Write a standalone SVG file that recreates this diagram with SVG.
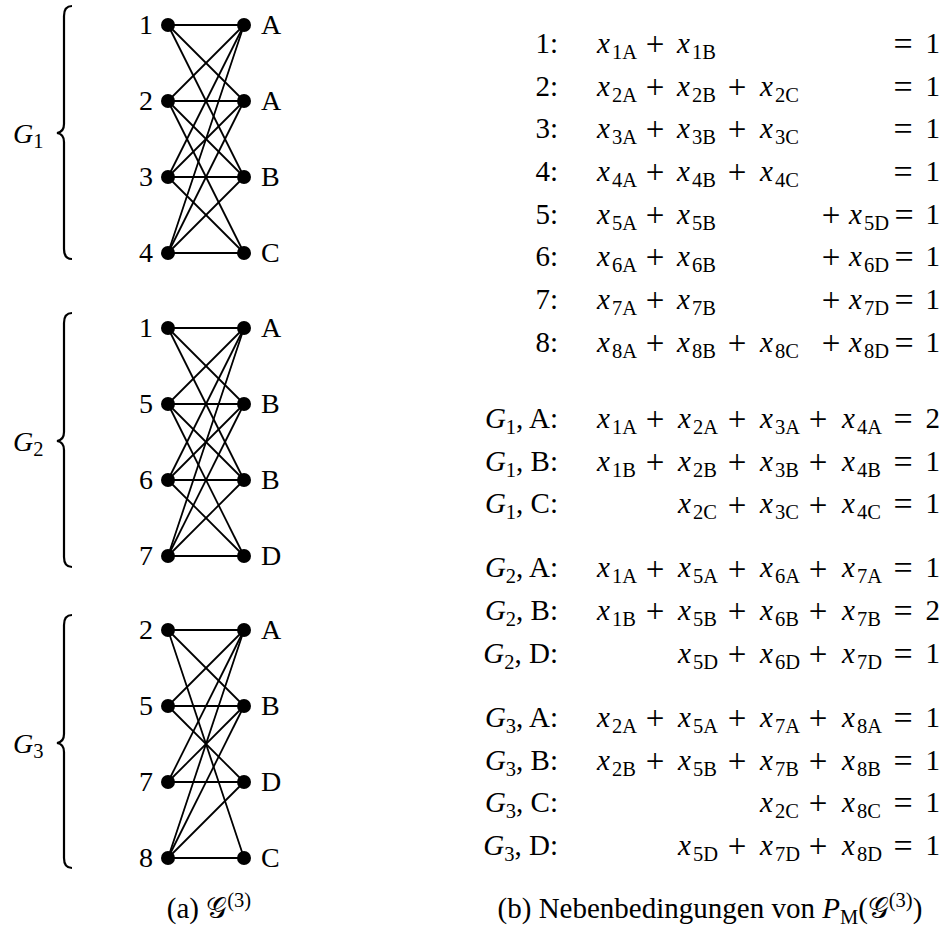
<svg xmlns="http://www.w3.org/2000/svg" width="946" height="928" viewBox="0 0 946 928">
<style>
.t{font-family:"Liberation Serif","DejaVu Serif",serif;font-size:29px;fill:#000}
.lb{font-family:"Liberation Serif","DejaVu Serif",serif;font-size:28px;fill:#000}
.i{font-style:italic}
.s{font-size:20.5px;font-style:normal}
.p{font-size:33px;text-anchor:middle;transform:translateY(2.2px)}
.q{font-size:34px;text-anchor:middle;transform:translateY(2px)}
.r{text-anchor:end}
.e{stroke:#000;stroke-width:1.8}
.n{fill:#000}
.br{fill:none;stroke:#000;stroke-width:2.2}
.sg{font-family:"DejaVu Serif","DejaVu Sans","Noto Sans",serif;font-style:normal}
</style>
<rect width="946" height="928" fill="#fff"/>

<g id="brace1">
<path class="br" d="M72,6 Q64,6 64,16 L64,124 Q64,132 57,133 Q64,134 64,142 L64,249 Q64,259 72,259"/>
<text class="lb" x="13" y="143"><tspan class="i">G</tspan><tspan class="s" dy="5">1</tspan></text>
</g>
<g id="brace2">
<path class="br" d="M72,313 Q64,313 64,323 L64,432 Q64,440 57,441 Q64,442 64,450 L64,557 Q64,567 72,567"/>
<text class="lb" x="13" y="451"><tspan class="i">G</tspan><tspan class="s" dy="5">2</tspan></text>
</g>
<g id="brace3">
<path class="br" d="M72,615 Q64,615 64,625 L64,734 Q64,742 57,743 Q64,744 64,752 L64,858 Q64,868 72,868"/>
<text class="lb" x="13" y="753"><tspan class="i">G</tspan><tspan class="s" dy="5">3</tspan></text>
</g>

<g id="connectors">
<line class="e" x1="168" y1="25" x2="244" y2="25"/>
<line class="e" x1="168" y1="25" x2="244" y2="101"/>
<line class="e" x1="168" y1="25" x2="244" y2="177"/>
<line class="e" x1="168" y1="101" x2="244" y2="25"/>
<line class="e" x1="168" y1="101" x2="244" y2="101"/>
<line class="e" x1="168" y1="101" x2="244" y2="177"/>
<line class="e" x1="168" y1="101" x2="244" y2="253"/>
<line class="e" x1="168" y1="177" x2="244" y2="25"/>
<line class="e" x1="168" y1="177" x2="244" y2="101"/>
<line class="e" x1="168" y1="177" x2="244" y2="177"/>
<line class="e" x1="168" y1="177" x2="244" y2="253"/>
<line class="e" x1="168" y1="253" x2="244" y2="25"/>
<line class="e" x1="168" y1="253" x2="244" y2="101"/>
<line class="e" x1="168" y1="253" x2="244" y2="177"/>
<line class="e" x1="168" y1="253" x2="244" y2="253"/>
<line class="e" x1="168" y1="328" x2="244" y2="328"/>
<line class="e" x1="168" y1="328" x2="244" y2="404"/>
<line class="e" x1="168" y1="328" x2="244" y2="480"/>
<line class="e" x1="168" y1="404" x2="244" y2="328"/>
<line class="e" x1="168" y1="404" x2="244" y2="404"/>
<line class="e" x1="168" y1="404" x2="244" y2="480"/>
<line class="e" x1="168" y1="404" x2="244" y2="556"/>
<line class="e" x1="168" y1="480" x2="244" y2="328"/>
<line class="e" x1="168" y1="480" x2="244" y2="404"/>
<line class="e" x1="168" y1="480" x2="244" y2="480"/>
<line class="e" x1="168" y1="480" x2="244" y2="556"/>
<line class="e" x1="168" y1="556" x2="244" y2="328"/>
<line class="e" x1="168" y1="556" x2="244" y2="404"/>
<line class="e" x1="168" y1="556" x2="244" y2="480"/>
<line class="e" x1="168" y1="556" x2="244" y2="556"/>
<line class="e" x1="168" y1="630" x2="244" y2="630"/>
<line class="e" x1="168" y1="630" x2="244" y2="706"/>
<line class="e" x1="168" y1="630" x2="244" y2="858"/>
<line class="e" x1="168" y1="706" x2="244" y2="630"/>
<line class="e" x1="168" y1="706" x2="244" y2="706"/>
<line class="e" x1="168" y1="706" x2="244" y2="782"/>
<line class="e" x1="168" y1="782" x2="244" y2="630"/>
<line class="e" x1="168" y1="782" x2="244" y2="706"/>
<line class="e" x1="168" y1="782" x2="244" y2="782"/>
<line class="e" x1="168" y1="858" x2="244" y2="630"/>
<line class="e" x1="168" y1="858" x2="244" y2="706"/>
<line class="e" x1="168" y1="858" x2="244" y2="782"/>
<line class="e" x1="168" y1="858" x2="244" y2="858"/>
</g>

<g id="g1-l1"><circle class="n" cx="168" cy="25" r="7"/><text class="lb r" x="153" y="34">1</text></g>
<g id="g1-l2"><circle class="n" cx="168" cy="101" r="7"/><text class="lb r" x="153" y="110">2</text></g>
<g id="g1-l3"><circle class="n" cx="168" cy="177" r="7"/><text class="lb r" x="153" y="186">3</text></g>
<g id="g1-l4"><circle class="n" cx="168" cy="253" r="7"/><text class="lb r" x="153" y="262">4</text></g>
<g id="g1-rA1"><circle class="n" cx="244" cy="25" r="7"/><text class="lb" x="261" y="34">A</text></g>
<g id="g1-rA2"><circle class="n" cx="244" cy="101" r="7"/><text class="lb" x="261" y="110">A</text></g>
<g id="g1-rB"><circle class="n" cx="244" cy="177" r="7"/><text class="lb" x="261" y="186">B</text></g>
<g id="g1-rC"><circle class="n" cx="244" cy="253" r="7"/><text class="lb" x="261" y="262">C</text></g>
<g id="g2-l1"><circle class="n" cx="168" cy="328" r="7"/><text class="lb r" x="153" y="337">1</text></g>
<g id="g2-l5"><circle class="n" cx="168" cy="404" r="7"/><text class="lb r" x="153" y="413">5</text></g>
<g id="g2-l6"><circle class="n" cx="168" cy="480" r="7"/><text class="lb r" x="153" y="489">6</text></g>
<g id="g2-l7"><circle class="n" cx="168" cy="556" r="7"/><text class="lb r" x="153" y="565">7</text></g>
<g id="g2-rA"><circle class="n" cx="244" cy="328" r="7"/><text class="lb" x="261" y="337">A</text></g>
<g id="g2-rB1"><circle class="n" cx="244" cy="404" r="7"/><text class="lb" x="261" y="413">B</text></g>
<g id="g2-rB2"><circle class="n" cx="244" cy="480" r="7"/><text class="lb" x="261" y="489">B</text></g>
<g id="g2-rD"><circle class="n" cx="244" cy="556" r="7"/><text class="lb" x="261" y="565">D</text></g>
<g id="g3-l2"><circle class="n" cx="168" cy="630" r="7"/><text class="lb r" x="153" y="639">2</text></g>
<g id="g3-l5"><circle class="n" cx="168" cy="706" r="7"/><text class="lb r" x="153" y="715">5</text></g>
<g id="g3-l7"><circle class="n" cx="168" cy="782" r="7"/><text class="lb r" x="153" y="791">7</text></g>
<g id="g3-l8"><circle class="n" cx="168" cy="858" r="7"/><text class="lb r" x="153" y="867">8</text></g>
<g id="g3-rA"><circle class="n" cx="244" cy="630" r="7"/><text class="lb" x="261" y="639">A</text></g>
<g id="g3-rB"><circle class="n" cx="244" cy="706" r="7"/><text class="lb" x="261" y="715">B</text></g>
<g id="g3-rD"><circle class="n" cx="244" cy="782" r="7"/><text class="lb" x="261" y="791">D</text></g>
<g id="g3-rC"><circle class="n" cx="244" cy="858" r="7"/><text class="lb" x="261" y="867">C</text></g>

<text id="cap-a" class="t" x="209" y="918" text-anchor="middle">(a) <tspan class="sg">𝒢</tspan><tspan class="s" dy="-11">(3)</tspan></text>

<g id="eqs" class="t">
<text class="r" x="558" y="53">1:</text>
<text x="597" y="53"><tspan class="i">x</tspan><tspan class="s" dx="2" dy="6">1A</tspan></text>
<text class="p" x="655" y="53">+</text>
<text x="677" y="53"><tspan class="i">x</tspan><tspan class="s" dx="2" dy="6">1B</tspan></text>
<text class="q" x="903" y="53">=</text><text class="r" x="940" y="53">1</text>

<text class="r" x="558" y="95.7">2:</text>
<text x="597" y="95.7"><tspan class="i">x</tspan><tspan class="s" dx="2" dy="6">2A</tspan></text>
<text class="p" x="655" y="95.7">+</text>
<text x="677" y="95.7"><tspan class="i">x</tspan><tspan class="s" dx="2" dy="6">2B</tspan></text>
<text class="p" x="737" y="95.7">+</text>
<text x="760" y="95.7"><tspan class="i">x</tspan><tspan class="s" dx="2" dy="6">2C</tspan></text>
<text class="q" x="903" y="95.7">=</text><text class="r" x="940" y="95.7">1</text>

<text class="r" x="558" y="138.3">3:</text>
<text x="597" y="138.3"><tspan class="i">x</tspan><tspan class="s" dx="2" dy="6">3A</tspan></text>
<text class="p" x="655" y="138.3">+</text>
<text x="677" y="138.3"><tspan class="i">x</tspan><tspan class="s" dx="2" dy="6">3B</tspan></text>
<text class="p" x="737" y="138.3">+</text>
<text x="760" y="138.3"><tspan class="i">x</tspan><tspan class="s" dx="2" dy="6">3C</tspan></text>
<text class="q" x="903" y="138.3">=</text><text class="r" x="940" y="138.3">1</text>

<text class="r" x="558" y="181">4:</text>
<text x="597" y="181"><tspan class="i">x</tspan><tspan class="s" dx="2" dy="6">4A</tspan></text>
<text class="p" x="655" y="181">+</text>
<text x="677" y="181"><tspan class="i">x</tspan><tspan class="s" dx="2" dy="6">4B</tspan></text>
<text class="p" x="737" y="181">+</text>
<text x="760" y="181"><tspan class="i">x</tspan><tspan class="s" dx="2" dy="6">4C</tspan></text>
<text class="q" x="903" y="181">=</text><text class="r" x="940" y="181">1</text>

<text class="r" x="558" y="223.7">5:</text>
<text x="597" y="223.7"><tspan class="i">x</tspan><tspan class="s" dx="2" dy="6">5A</tspan></text>
<text class="p" x="655" y="223.7">+</text>
<text x="677" y="223.7"><tspan class="i">x</tspan><tspan class="s" dx="2" dy="6">5B</tspan></text>
<text class="p" x="831" y="223.7">+</text>
<text x="849" y="223.7"><tspan class="i">x</tspan><tspan class="s" dx="2" dy="6">5D</tspan></text>
<text class="q" x="904" y="223.7">=</text><text class="r" x="940" y="223.7">1</text>

<text class="r" x="558" y="266.3">6:</text>
<text x="597" y="266.3"><tspan class="i">x</tspan><tspan class="s" dx="2" dy="6">6A</tspan></text>
<text class="p" x="655" y="266.3">+</text>
<text x="677" y="266.3"><tspan class="i">x</tspan><tspan class="s" dx="2" dy="6">6B</tspan></text>
<text class="p" x="831" y="266.3">+</text>
<text x="849" y="266.3"><tspan class="i">x</tspan><tspan class="s" dx="2" dy="6">6D</tspan></text>
<text class="q" x="904" y="266.3">=</text><text class="r" x="940" y="266.3">1</text>

<text class="r" x="558" y="309">7:</text>
<text x="597" y="309"><tspan class="i">x</tspan><tspan class="s" dx="2" dy="6">7A</tspan></text>
<text class="p" x="655" y="309">+</text>
<text x="677" y="309"><tspan class="i">x</tspan><tspan class="s" dx="2" dy="6">7B</tspan></text>
<text class="p" x="831" y="309">+</text>
<text x="849" y="309"><tspan class="i">x</tspan><tspan class="s" dx="2" dy="6">7D</tspan></text>
<text class="q" x="904" y="309">=</text><text class="r" x="940" y="309">1</text>

<text class="r" x="558" y="351.7">8:</text>
<text x="597" y="351.7"><tspan class="i">x</tspan><tspan class="s" dx="2" dy="6">8A</tspan></text>
<text class="p" x="655" y="351.7">+</text>
<text x="677" y="351.7"><tspan class="i">x</tspan><tspan class="s" dx="2" dy="6">8B</tspan></text>
<text class="p" x="737" y="351.7">+</text>
<text x="760" y="351.7"><tspan class="i">x</tspan><tspan class="s" dx="2" dy="6">8C</tspan></text>
<text class="p" x="831" y="351.7">+</text>
<text x="849" y="351.7"><tspan class="i">x</tspan><tspan class="s" dx="2" dy="6">8D</tspan></text>
<text class="q" x="904" y="351.7">=</text><text class="r" x="940" y="351.7">1</text>

<text class="r" x="558" y="428"><tspan class="i">G</tspan><tspan class="s" dy="6">1</tspan><tspan dy="-6">, A:</tspan></text>
<text x="597" y="428"><tspan class="i">x</tspan><tspan class="s" dx="2" dy="6">1A</tspan></text>
<text class="p" x="655" y="428">+</text>
<text x="678" y="428"><tspan class="i">x</tspan><tspan class="s" dx="2" dy="6">2A</tspan></text>
<text class="p" x="737" y="428">+</text>
<text x="760" y="428"><tspan class="i">x</tspan><tspan class="s" dx="2" dy="6">3A</tspan></text>
<text class="p" x="818" y="428">+</text>
<text x="842" y="428"><tspan class="i">x</tspan><tspan class="s" dx="2" dy="6">4A</tspan></text>
<text class="q" x="903" y="428">=</text><text class="r" x="940" y="428">2</text>

<text class="r" x="558" y="470.7"><tspan class="i">G</tspan><tspan class="s" dy="6">1</tspan><tspan dy="-6">, B:</tspan></text>
<text x="597" y="470.7"><tspan class="i">x</tspan><tspan class="s" dx="2" dy="6">1B</tspan></text>
<text class="p" x="655" y="470.7">+</text>
<text x="678" y="470.7"><tspan class="i">x</tspan><tspan class="s" dx="2" dy="6">2B</tspan></text>
<text class="p" x="737" y="470.7">+</text>
<text x="760" y="470.7"><tspan class="i">x</tspan><tspan class="s" dx="2" dy="6">3B</tspan></text>
<text class="p" x="818" y="470.7">+</text>
<text x="842" y="470.7"><tspan class="i">x</tspan><tspan class="s" dx="2" dy="6">4B</tspan></text>
<text class="q" x="903" y="470.7">=</text><text class="r" x="940" y="470.7">1</text>

<text class="r" x="558" y="513.4"><tspan class="i">G</tspan><tspan class="s" dy="6">1</tspan><tspan dy="-6">, C:</tspan></text>
<text x="678" y="513.4"><tspan class="i">x</tspan><tspan class="s" dx="2" dy="6">2C</tspan></text>
<text class="p" x="737" y="513.4">+</text>
<text x="760" y="513.4"><tspan class="i">x</tspan><tspan class="s" dx="2" dy="6">3C</tspan></text>
<text class="p" x="818" y="513.4">+</text>
<text x="842" y="513.4"><tspan class="i">x</tspan><tspan class="s" dx="2" dy="6">4C</tspan></text>
<text class="q" x="903" y="513.4">=</text><text class="r" x="940" y="513.4">1</text>

<text class="r" x="558" y="577.4"><tspan class="i">G</tspan><tspan class="s" dy="6">2</tspan><tspan dy="-6">, A:</tspan></text>
<text x="597" y="577.4"><tspan class="i">x</tspan><tspan class="s" dx="2" dy="6">1A</tspan></text>
<text class="p" x="655" y="577.4">+</text>
<text x="678" y="577.4"><tspan class="i">x</tspan><tspan class="s" dx="2" dy="6">5A</tspan></text>
<text class="p" x="737" y="577.4">+</text>
<text x="760" y="577.4"><tspan class="i">x</tspan><tspan class="s" dx="2" dy="6">6A</tspan></text>
<text class="p" x="818" y="577.4">+</text>
<text x="842" y="577.4"><tspan class="i">x</tspan><tspan class="s" dx="2" dy="6">7A</tspan></text>
<text class="q" x="903" y="577.4">=</text><text class="r" x="940" y="577.4">1</text>

<text class="r" x="558" y="620"><tspan class="i">G</tspan><tspan class="s" dy="6">2</tspan><tspan dy="-6">, B:</tspan></text>
<text x="597" y="620"><tspan class="i">x</tspan><tspan class="s" dx="2" dy="6">1B</tspan></text>
<text class="p" x="655" y="620">+</text>
<text x="678" y="620"><tspan class="i">x</tspan><tspan class="s" dx="2" dy="6">5B</tspan></text>
<text class="p" x="737" y="620">+</text>
<text x="760" y="620"><tspan class="i">x</tspan><tspan class="s" dx="2" dy="6">6B</tspan></text>
<text class="p" x="818" y="620">+</text>
<text x="842" y="620"><tspan class="i">x</tspan><tspan class="s" dx="2" dy="6">7B</tspan></text>
<text class="q" x="903" y="620">=</text><text class="r" x="940" y="620">2</text>

<text class="r" x="558" y="662.8"><tspan class="i">G</tspan><tspan class="s" dy="6">2</tspan><tspan dy="-6">, D:</tspan></text>
<text x="678" y="662.8"><tspan class="i">x</tspan><tspan class="s" dx="2" dy="6">5D</tspan></text>
<text class="p" x="737" y="662.8">+</text>
<text x="760" y="662.8"><tspan class="i">x</tspan><tspan class="s" dx="2" dy="6">6D</tspan></text>
<text class="p" x="818" y="662.8">+</text>
<text x="842" y="662.8"><tspan class="i">x</tspan><tspan class="s" dx="2" dy="6">7D</tspan></text>
<text class="q" x="903" y="662.8">=</text><text class="r" x="940" y="662.8">1</text>

<text class="r" x="558" y="726.8"><tspan class="i">G</tspan><tspan class="s" dy="6">3</tspan><tspan dy="-6">, A:</tspan></text>
<text x="597" y="726.8"><tspan class="i">x</tspan><tspan class="s" dx="2" dy="6">2A</tspan></text>
<text class="p" x="655" y="726.8">+</text>
<text x="678" y="726.8"><tspan class="i">x</tspan><tspan class="s" dx="2" dy="6">5A</tspan></text>
<text class="p" x="737" y="726.8">+</text>
<text x="760" y="726.8"><tspan class="i">x</tspan><tspan class="s" dx="2" dy="6">7A</tspan></text>
<text class="p" x="818" y="726.8">+</text>
<text x="842" y="726.8"><tspan class="i">x</tspan><tspan class="s" dx="2" dy="6">8A</tspan></text>
<text class="q" x="903" y="726.8">=</text><text class="r" x="940" y="726.8">1</text>

<text class="r" x="558" y="769.5"><tspan class="i">G</tspan><tspan class="s" dy="6">3</tspan><tspan dy="-6">, B:</tspan></text>
<text x="597" y="769.5"><tspan class="i">x</tspan><tspan class="s" dx="2" dy="6">2B</tspan></text>
<text class="p" x="655" y="769.5">+</text>
<text x="678" y="769.5"><tspan class="i">x</tspan><tspan class="s" dx="2" dy="6">5B</tspan></text>
<text class="p" x="737" y="769.5">+</text>
<text x="760" y="769.5"><tspan class="i">x</tspan><tspan class="s" dx="2" dy="6">7B</tspan></text>
<text class="p" x="818" y="769.5">+</text>
<text x="842" y="769.5"><tspan class="i">x</tspan><tspan class="s" dx="2" dy="6">8B</tspan></text>
<text class="q" x="903" y="769.5">=</text><text class="r" x="940" y="769.5">1</text>

<text class="r" x="558" y="812.2"><tspan class="i">G</tspan><tspan class="s" dy="6">3</tspan><tspan dy="-6">, C:</tspan></text>
<text x="760" y="812.2"><tspan class="i">x</tspan><tspan class="s" dx="2" dy="6">2C</tspan></text>
<text class="p" x="818" y="812.2">+</text>
<text x="842" y="812.2"><tspan class="i">x</tspan><tspan class="s" dx="2" dy="6">8C</tspan></text>
<text class="q" x="903" y="812.2">=</text><text class="r" x="940" y="812.2">1</text>

<text class="r" x="558" y="855"><tspan class="i">G</tspan><tspan class="s" dy="6">3</tspan><tspan dy="-6">, D:</tspan></text>
<text x="678" y="855"><tspan class="i">x</tspan><tspan class="s" dx="2" dy="6">5D</tspan></text>
<text class="p" x="737" y="855">+</text>
<text x="760" y="855"><tspan class="i">x</tspan><tspan class="s" dx="2" dy="6">7D</tspan></text>
<text class="p" x="818" y="855">+</text>
<text x="842" y="855"><tspan class="i">x</tspan><tspan class="s" dx="2" dy="6">8D</tspan></text>
<text class="q" x="903" y="855">=</text><text class="r" x="940" y="855">1</text>
</g>

<text id="cap-b" class="t" x="710" y="918" text-anchor="middle">(b) Nebenbedingungen von <tspan class="i">P</tspan><tspan class="s i" dy="6">M</tspan><tspan dy="-6">(</tspan><tspan class="sg">𝒢</tspan><tspan class="s" dy="-11">(3)</tspan><tspan dy="11">)</tspan></text>
</svg>
